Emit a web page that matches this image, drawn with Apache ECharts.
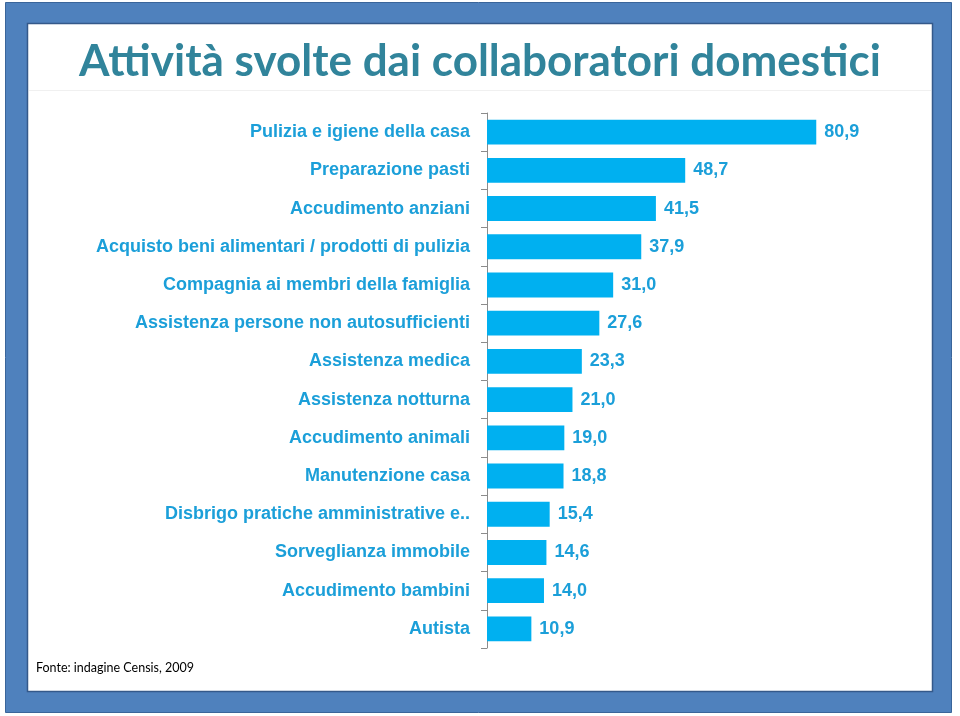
<!DOCTYPE html>
<html>
<head>
<meta charset="utf-8">
<script src="https://cdn.jsdelivr.net/npm/echarts@6/dist/echarts.min.js"></script>
<style>html,body{margin:0;padding:0;background:#fff}#c{width:960px;height:716px}</style>
</head>
<body>
<div id="c"></div>
<script>
const categories = [
  "Pulizia e igiene della casa",
  "Preparazione pasti",
  "Accudimento anziani",
  "Acquisto beni alimentari / prodotti di pulizia",
  "Compagnia ai membri della famiglia",
  "Assistenza persone non autosufficienti",
  "Assistenza medica",
  "Assistenza notturna",
  "Accudimento animali",
  "Manutenzione casa",
  "Disbrigo pratiche amministrative e..",
  "Sorveglianza immobile",
  "Accudimento bambini",
  "Autista"
];
const values = [80.9, 48.7, 41.5, 37.9, 31.0, 27.6, 23.3, 21.0, 19.0, 18.8, 15.4, 14.6, 14.0, 10.9];
const titleText = "Attività svolte dai collaboratori domestici";
const sourceText = "Fonte: indagine Censis, 2009";

const chart = echarts.init(document.getElementById('c'), null, {renderer: 'canvas'});
const labelColor = '#1b9fd9';
chart.setOption({
  animation: false,
  graphic: [
    {type: 'rect', z: -10, shape: {x: 5.5, y: 2.5, width: 946, height: 710},
     style: {fill: '#4f81bd', stroke: '#3a659a', lineWidth: 1}},
    {type: 'rect', z: -9, shape: {x: 27.5, y: 23.5, width: 905, height: 668},
     style: {fill: '#ffffff', stroke: '#34598a', lineWidth: 1.5}},
    {type: 'text', z: 5, left: 'center', top: 40,
     style: {text: titleText, fill: '#31849b', font: 'bold 44px Lato', textAlign: 'center'}},
    {type: 'line', z: -8, shape: {x1: 29, y1: 90.5, x2: 931, y2: 90.5},
     style: {stroke: '#f0f0f0', lineWidth: 1}},
    {type: 'text', z: 5, left: 36, top: 661,
     style: {text: sourceText, fill: '#000000', font: '12.5px Lato'}}
  ],
  grid: {left: 487, top: 113, width: 407, height: 535, containLabel: false},
  xAxis: {type: 'value', min: 0, max: 100, show: false},
  yAxis: {
    type: 'category', data: categories, inverse: true,
    axisLine: {show: true, lineStyle: {color: '#8c8c8c', width: 1}},
    axisTick: {show: true, length: 6, lineStyle: {color: '#8c8c8c'}},
    axisLabel: {color: labelColor, fontFamily: 'Liberation Sans', fontWeight: 'bold', fontSize: 18, margin: 17}
  },
  series: [{
    type: 'bar', data: values, barCategoryGap: '35%',
    itemStyle: {color: '#00b0f0'},
    label: {show: true, position: 'right', distance: 8, color: labelColor,
      fontFamily: 'Liberation Sans', fontWeight: 'bold', fontSize: 18,
      formatter: p => p.value.toFixed(1).replace('.', ',')}
  }]
});
</script>
</body>
</html>
